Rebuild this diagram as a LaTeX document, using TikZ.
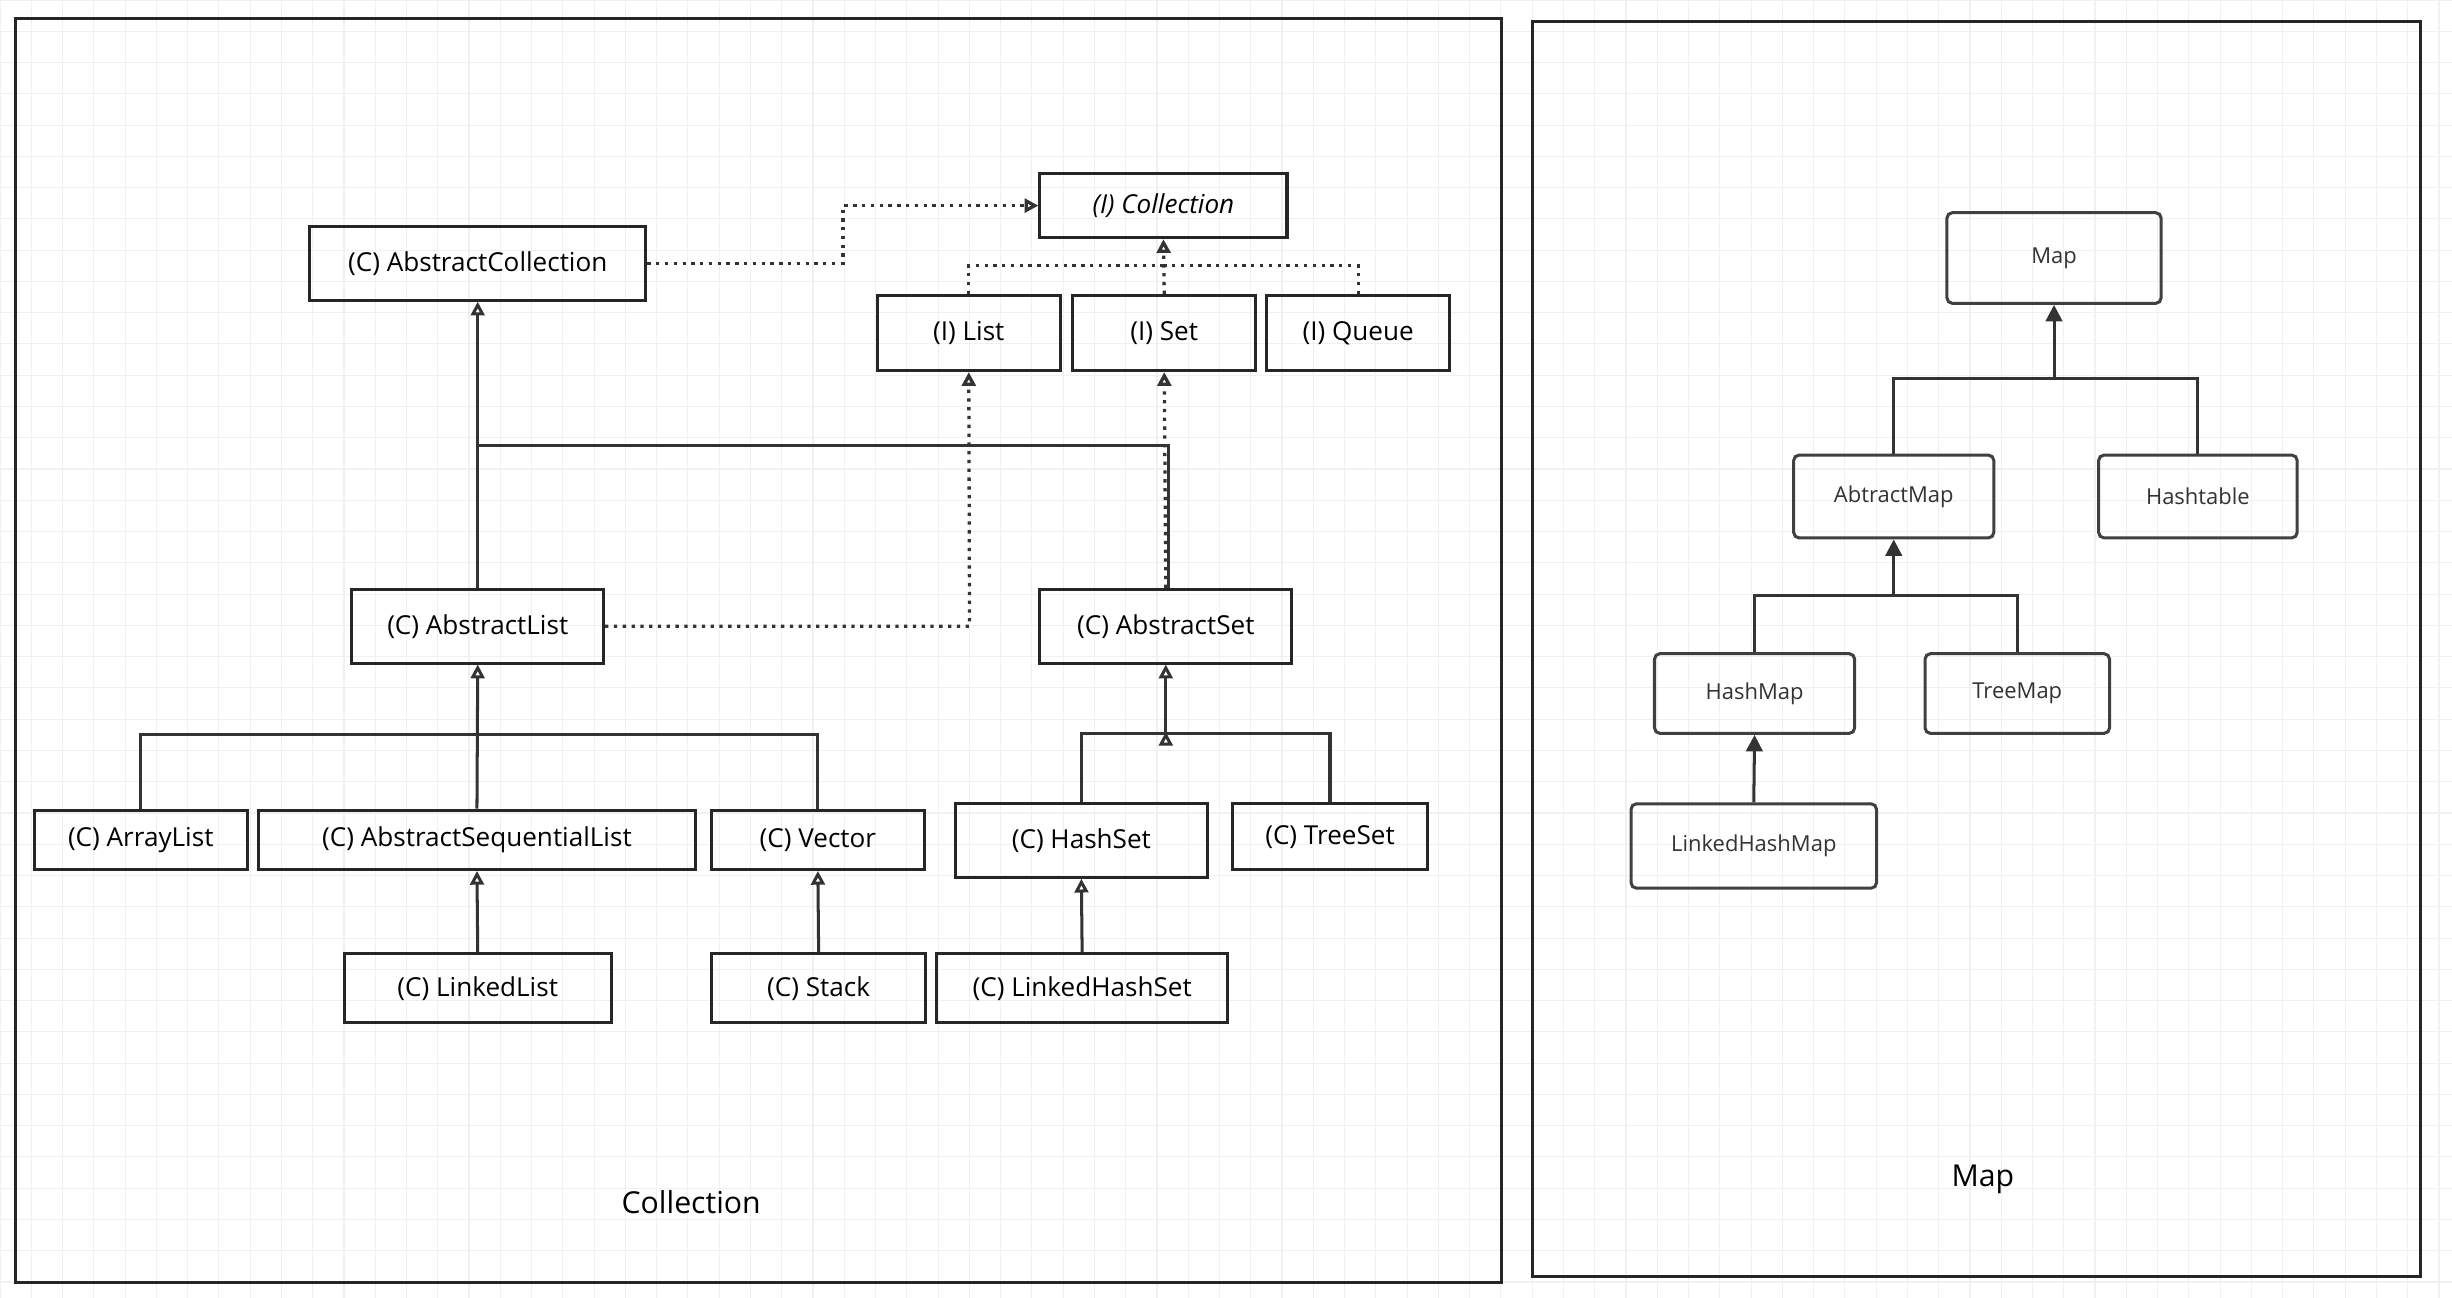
\documentclass[tikz,border=0pt]{standalone}
\usepackage{fontspec}
\setmainfont{Open Sans}
\usetikzlibrary{arrows.meta}
\begin{document}
\begin{tikzpicture}[x=0.02cm,y=-0.02cm,
  ln/.style={line width=1.1pt,draw=black!80},
  dt/.style={line width=1.2pt,draw=black!80,dotted},
  opn/.style={-{Triangle[open,length=5pt,width=5pt]}},
  fil/.style={-{Triangle[length=6pt,width=6pt]}},
  b/.style 2 args={draw=black!85,line width=1.1pt,minimum width=#1*0.02cm,minimum height=#2*0.02cm,inner sep=0pt,font=\fontsize{9.5}{11}\selectfont},
  m/.style 2 args={draw=black!75,line width=1.1pt,rounded corners=2pt,minimum width=#1*0.02cm,minimum height=#2*0.02cm,inner sep=0pt,font=\fontsize{8}{10}\selectfont,text=black!80}]
\useasboundingbox (0,0) rectangle (1568,830);
\fill[white] (0,0) rectangle (1568,830);
\draw[black!6,step=0.4cm] (0,0) grid (1568,830);
\draw[line width=1.1pt,black!85] (10,12) rectangle (960,820);
\draw[line width=1.1pt,black!85] (980,14) rectangle (1548,816);
% Collection nodes
\node[b={158}{41},font=\fontsize{9.5}{11}\selectfont\itshape] (coll) at (744,131.5) {(I) Collection};
\node[b={215}{47}] (acoll) at (305.5,168.5) {(C) AbstractCollection};
\node[b={117}{48}] (list) at (619.5,213) {(I) List};
\node[b={117}{48}] (set) at (744.5,213) {(I) Set};
\node[b={117}{48}] (queue) at (868.5,213) {(I) Queue};
\node[b={161}{47}] (alist) at (305.5,400.5) {(C) AbstractList};
\node[b={161}{47}] (aset) at (745.5,400.5) {(C) AbstractSet};
\node[b={136}{38}] (arr) at (90,537) {(C) ArrayList};
\node[b={280}{38}] (aseq) at (305,537) {(C) AbstractSequentialList};
\node[b={136}{38}] (vec) at (523,537) {(C) Vector};
\node[b={161}{47}] (hset) at (691.5,537.5) {(C) HashSet};
\node[b={125}{42}] (tset) at (850.5,535) {(C) TreeSet};
\node[b={171}{44}] (llist) at (305.5,632) {(C) LinkedList};
\node[b={137}{44}] (stack) at (523.5,632) {(C) Stack};
\node[b={186}{44}] (lhset) at (692,632) {(C) LinkedHashSet};
\node[font=\fontsize{11}{13}\selectfont] (t1) at (442,769) {Collection};
\node[font=\fontsize{11}{13}\selectfont] (t2) at (1268,754) {Map};
% Map nodes
\node[m={137}{58}] (map) at (1313.5,165) {Map};
\node[m={128}{53}] (amap) at (1211,317.5) {AbtractMap};
\node[m={127}{53}] (htab) at (1405.5,317.5) {Hashtable};
\node[m={128}{51}] (hmap) at (1122,443.5) {HashMap};
\node[m={118}{51}] (tmap) at (1290,443.5) {TreeMap};
\node[m={157}{54}] (lhmap) at (1121.5,541) {LinkedHashMap};
% Collection connectors
\coordinate (c1) at (539,168.5);
\coordinate (j) at (744,170);
\draw[dt,opn] (acoll.east) -- (c1) |- (coll.west);
\draw[dt] (list.north) |- (j);
\draw[dt] (queue.north) |- (j);
\draw[dt,opn] (set.north) -- (coll.south);
\draw[ln,opn] (alist.north) -- (acoll.south);
\coordinate (h1) at (305.5,285);
\coordinate (h2) at (747,285);
\draw[ln] (h1) -- (h2) -- (h2|-aset.north);
\draw[dt,opn] (aset.north) -- (set.south);
\coordinate (c2) at (620,400.5);
\draw[dt,opn] (alist.east) -- (c2) -- (list.south);
\coordinate (r1) at (305,470);
\draw[ln] (arr.north) |- (r1) -| (vec.north);
\draw[ln,opn] (aseq.north) -- (alist.south);
\coordinate (r2) at (691.5,469);
\draw[ln] (tset.north) |- (r2) -- (hset.north);
\draw[ln,opn] (aset.south) ++(0,0) (hset.north) ++(54,-45) coordinate (dummy);
\draw[ln,opn] (r2-|aset.south) -- (aset.south);
\draw[ln,opn] (llist.north) -- (aseq.south);
\draw[ln,opn] (stack.north) -- (vec.south);
\draw[ln,opn] (lhset.north) -- (hset.south);
% Map connectors
\coordinate (m1) at (1313.5,242);
\draw[ln] (amap.north) |- (m1) -| (htab.north);
\draw[ln,fil] (m1) -- (map.south);
\coordinate (m2) at (1211,381);
\draw[ln] (hmap.north) |- (m2) -| (tmap.north);
\draw[ln,fil] (m2) -- (amap.south);
\draw[ln,fil] (lhmap.north) -- (hmap.south);
\end{tikzpicture}
\end{document}
